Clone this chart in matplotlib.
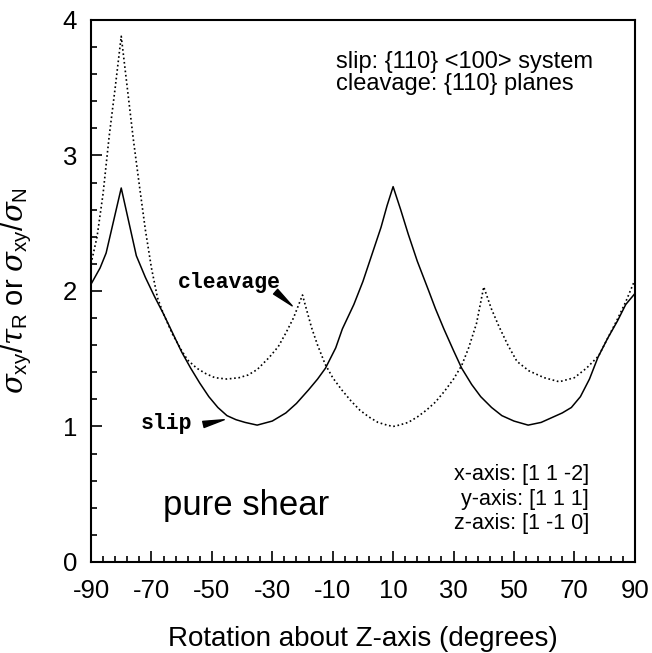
import numpy as np
import matplotlib
matplotlib.use('Agg')
import matplotlib.pyplot as plt
from matplotlib.ticker import FixedLocator

plt.rcParams['font.family'] = ['Liberation Sans', 'DejaVu Sans']
plt.rcParams['mathtext.fontset'] = 'custom'
plt.rcParams['mathtext.rm'] = 'Liberation Sans'
plt.rcParams['mathtext.it'] = 'DejaVu Serif:italic'
plt.rcParams['axes.unicode_minus'] = False

# slip curve (solid)
slip_x = [-90, -87, -85, -82.5, -80, -77.5, -75, -72, -69, -66, -63, -60, -57, -54,
          -51, -48, -45, -42, -39, -35, -30, -25.5, -22, -18, -15, -12.4, -9, -6.8,
          -3, 0, 3, 6, 8, 10, 12.5, 15, 18, 21.8, 24, 26.8, 30, 32.7, 36, 39, 42.6,
          46, 50, 54.7, 59, 63, 66, 69, 72, 75, 77.8, 81, 84.3, 87, 90]
slip_y = [2.05, 2.17, 2.28, 2.52, 2.76, 2.51, 2.26, 2.10, 1.96, 1.83, 1.69, 1.55, 1.43, 1.32,
          1.22, 1.14, 1.08, 1.05, 1.03, 1.01, 1.04, 1.10, 1.17, 1.27, 1.35, 1.43, 1.58, 1.72,
          1.90, 2.07, 2.27, 2.47, 2.63, 2.77, 2.60, 2.42, 2.22, 2.00, 1.87, 1.72, 1.56, 1.43,
          1.31, 1.22, 1.14, 1.08, 1.04, 1.01, 1.03, 1.07, 1.10, 1.14, 1.22, 1.35, 1.51, 1.65,
          1.78, 1.90, 1.98]

# cleavage curve (dotted)
clv_x = [-90, -88, -86, -84, -82, -80, -78, -76, -74, -72, -70, -68, -66, -63, -60, -58,
         -55, -52, -49, -45, -41, -38, -35, -31, -28, -25.5, -23, -20, -17, -15, -12.5,
         -10, -7, -4, -1, 2, 5, 8, 10, 12, 15, 18, 21, 24, 27, 30, 32.7, 35, 37.6, 40,
         42.5, 45, 48, 51, 55, 60, 65, 70, 74, 78, 81, 84, 87, 90]
clv_y = [2.20, 2.40, 2.72, 3.14, 3.50, 3.88, 3.50, 3.12, 2.78, 2.45, 2.17, 1.95, 1.83, 1.68,
         1.56, 1.49, 1.43, 1.39, 1.36, 1.35, 1.36, 1.38, 1.42, 1.51, 1.59, 1.69, 1.80, 1.97,
         1.73, 1.60, 1.46, 1.36, 1.27, 1.19, 1.12, 1.07, 1.03, 1.01, 1.00, 1.01, 1.03, 1.07,
         1.12, 1.18, 1.26, 1.35, 1.45, 1.58, 1.76, 2.03, 1.87, 1.74, 1.60, 1.48, 1.41, 1.36,
         1.33, 1.36, 1.43, 1.52, 1.65, 1.78, 1.92, 2.08]

xticks = [-90, -70, -50, -30, -10, 10, 30, 50, 70, 90]
yticks = [0, 1, 2, 3, 4]

fig = plt.figure(figsize=(6.52, 6.53), dpi=100)
ax = fig.add_axes([0.1396, 0.1394, 0.834, 0.830])

ax.plot(slip_x, slip_y, color='k', lw=1.1)
ax.plot(clv_x, clv_y, color='k', lw=1.2, linestyle=(0, (1, 1.6)))

ax.set_xlim(-90, 90)
ax.set_ylim(0, 4)
ax.set_xticks(xticks)
ax.set_yticks(yticks)
ax.xaxis.set_minor_locator(FixedLocator(np.arange(-90, 91, 4)))
ax.yaxis.set_minor_locator(FixedLocator(np.arange(0, 4.01, 0.2)))
ax.tick_params(which='both', direction='in', top=False, right=False, width=1.2,
               labelsize=18.5, color='k')
ax.tick_params(which='major', length=8)
ax.tick_params(which='minor', length=4.5)
ax.tick_params(axis='x', which='major', pad=12)
ax.tick_params(axis='y', which='major', pad=10)
for s in ax.spines.values():
    s.set_linewidth(1.5)

ax.set_xlabel('Rotation about Z-axis (degrees)', fontsize=20, labelpad=17)
ax.set_ylabel(r'$\sigma_{\rm xy}/\tau_{\rm R}$ or $\sigma_{\rm xy}/\sigma_{\rm N}$', fontsize=21)
ax.yaxis.set_label_coords(-0.105, 0.50)

ax.text(0.451, 0.943, 'slip: {110} <100> system\ncleavage: {110} planes',
        transform=ax.transAxes, fontsize=17, va='top', ha='left', linespacing=1.0)
ax.text(0.916, 0.18, 'x-axis: [1 1 -2]\ny-axis: [1 1 1]\nz-axis: [1 -1 0]',
        transform=ax.transAxes, fontsize=15.5, va='top', ha='right', ma='right',
        linespacing=1.2)
ax.text(0.132, 0.105, 'pure shear', transform=ax.transAxes, fontsize=25,
        va='center', ha='left')

mono = dict(family='Liberation Mono', weight='bold', fontsize=15.5)
ax.text(-44.3, 2.06, 'cleavage', ha='center', va='center', **mono)
ax.text(-65.1, 1.02, 'slip', ha='center', va='center', **mono)
wedge = dict(arrowstyle='wedge,tail_width=0.45,shrink_factor=0.5', color='k',
             shrinkA=0, shrinkB=0)
ax.annotate('', xy=(-23.4, 1.89), xytext=(-28.9, 1.995), arrowprops=wedge)
ax.annotate('', xy=(-45.9, 1.05), xytext=(-52.8, 1.015), arrowprops=wedge)

fig.savefig('out.png', dpi=100)
